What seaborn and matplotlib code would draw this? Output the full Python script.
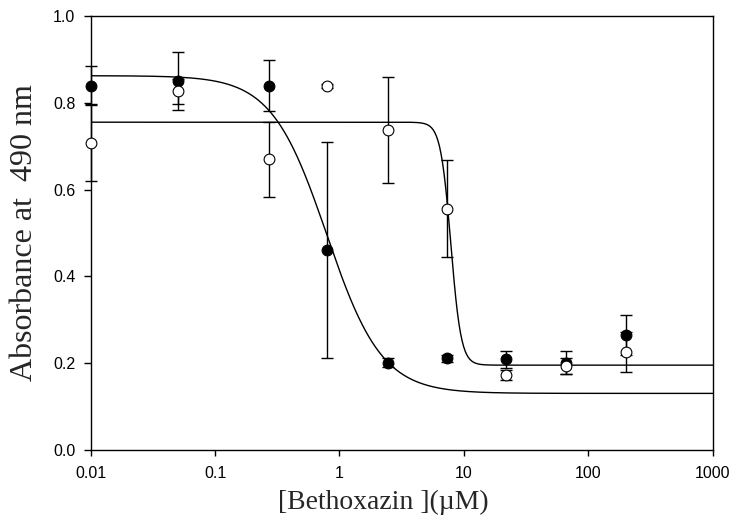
import numpy as np
import pandas as pd
import matplotlib
matplotlib.use("Agg")
import matplotlib.pyplot as plt
import seaborn as sns

# ---- data ----
conc = [0.01, 0.05, 0.27, 0.8, 2.47, 7.3, 22.0, 66.5, 200.0]
filled_mean = [0.839, 0.850, 0.839, 0.461, 0.202, 0.212, 0.209, 0.202, 0.265]
filled_err = [0.045, 0.067, 0.059, 0.248, 0.010, 0.008, 0.019, 0.027, 0.046]
open_mean = [0.708, 0.826, 0.670, 0.839, 0.737, 0.556, 0.173, 0.194, 0.226]
open_err = [0.088, 0.028, 0.086, 0.005, 0.122, 0.112, 0.011, 0.018, 0.046]

# fitted four-parameter sigmoid curves (parameters)
filled_fit = {"top": 0.862, "bottom": 0.131, "ec50": 0.79, "hill": 1.96}
open_fit = {"top": 0.755, "bottom": 0.196, "ec50": 7.85, "hill": 10.5}

x_ticks = [0.01, 0.1, 1, 10, 100, 1000]
x_tick_labels = ["0.01", "0.1", "1", "10", "100", "1000"]
y_ticks = [0.0, 0.2, 0.4, 0.6, 0.8, 1.0]
y_tick_labels = ["0.0", "0.2", "0.4", "0.6", "0.8", "1.0"]

x_label = "[Bethoxazin ](\u00b5M)"
y_label = "Absorbance at  490 nm"

# ---- build tables ----
pts = pd.DataFrame({"conc": conc, "filled": filled_mean, "filled_err": filled_err,
                    "open": open_mean, "open_err": open_err})

def sigmoid(x, p):
    return p["bottom"] + (p["top"] - p["bottom"]) / (1.0 + (x / p["ec50"]) ** p["hill"])

xs = np.logspace(-2, 3, 800)
curves = pd.DataFrame({"x": np.concatenate([xs, xs]),
                       "y": np.concatenate([sigmoid(xs, filled_fit), sigmoid(xs, open_fit)]),
                       "fit": ["filled"] * len(xs) + ["open"] * len(xs)})

sns.set_style("ticks")
plt.rcParams["font.family"] = ["Liberation Sans", "DejaVu Sans"]

fig = plt.figure(figsize=(7.33, 5.24), dpi=100)
ax = fig.add_axes([0.1237, 0.1406, 0.9723 - 0.1237, 0.970 - 0.1406])

sns.lineplot(data=curves, x="x", y="y", units="fit", estimator=None, sort=False,
             color="black", linewidth=1.0, ax=ax, legend=False, zorder=2)

ax.errorbar(pts["conc"], pts["filled"], yerr=pts["filled_err"], fmt="none",
            ecolor="black", elinewidth=1.0, capsize=4.4, capthick=1.0, zorder=3, clip_on=False)
ax.errorbar(pts["conc"], pts["open"], yerr=pts["open_err"], fmt="none",
            ecolor="black", elinewidth=1.0, capsize=4.4, capthick=1.0, zorder=3, clip_on=False)

sns.scatterplot(data=pts, x="conc", y="filled", ax=ax, color="black", edgecolor="black",
                s=60, linewidth=0.8, zorder=5, clip_on=False)
sns.scatterplot(data=pts, x="conc", y="open", ax=ax, color="white", edgecolor="black",
                s=60, linewidth=0.8, zorder=5, clip_on=False)

ax.set_xscale("log")
ax.set_xlim(0.01, 1000)
ax.set_ylim(0.0, 1.0)
ax.set_xticks(x_ticks)
ax.set_xticklabels(x_tick_labels)
ax.xaxis.set_minor_locator(matplotlib.ticker.NullLocator())
ax.set_yticks(y_ticks)
ax.set_yticklabels(y_tick_labels)

for s in ax.spines.values():
    s.set_visible(True)
    s.set_linewidth(1.0)
    s.set_color("black")

ax.tick_params(axis="both", direction="out", width=1.0, color="black",
               labelsize=11.5, labelcolor="black")
ax.tick_params(axis="y", length=5, pad=6)
ax.tick_params(axis="x", length=4, pad=7)

ax.set_xlabel(x_label, family=["Liberation Serif", "DejaVu Serif"], fontsize=20)
ax.xaxis.set_label_coords(0.47, -0.092)
ax.set_ylabel(y_label, family=["Liberation Serif", "DejaVu Serif"], fontsize=23, labelpad=10)

fig.savefig("out.png", dpi=100)
